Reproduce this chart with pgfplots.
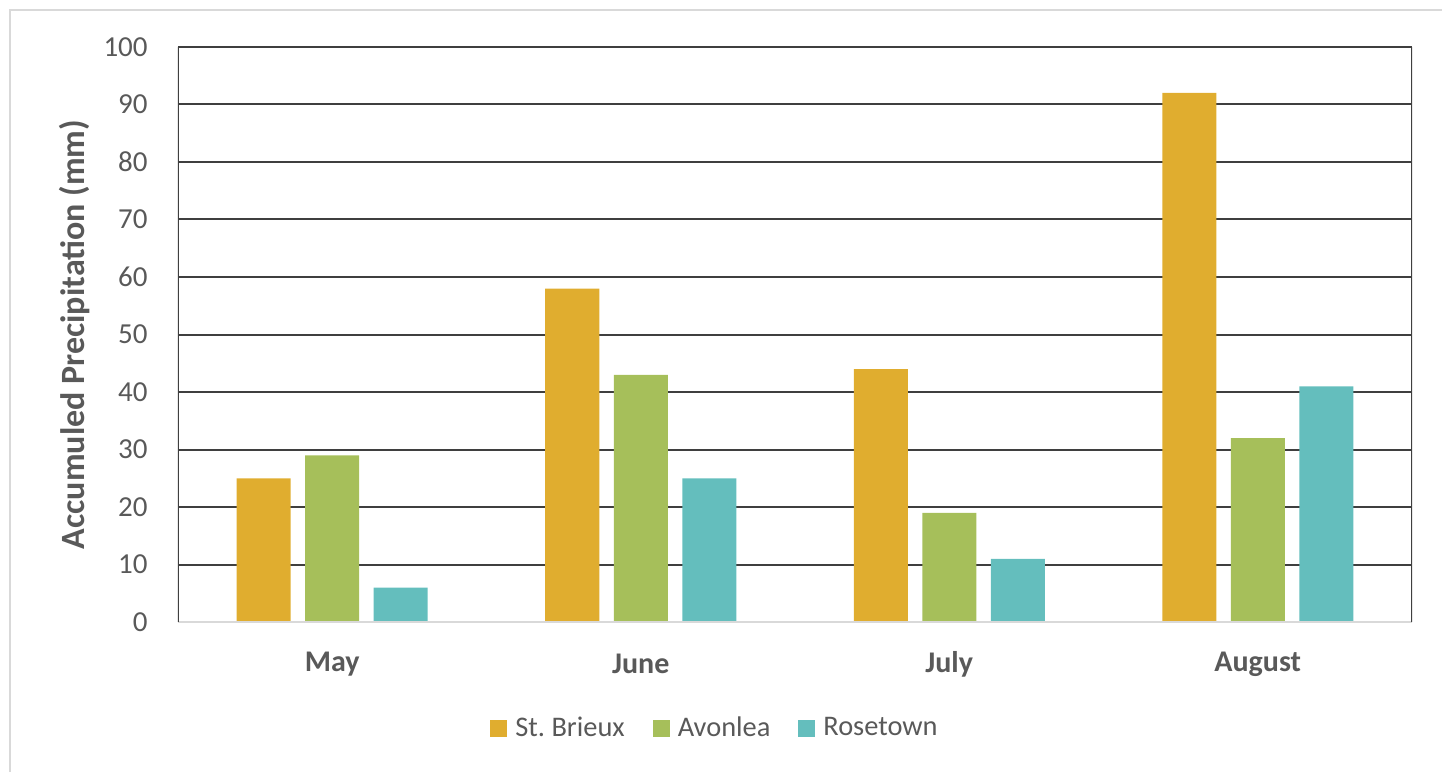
\documentclass[border=0pt]{standalone}
\usepackage{pgfplots}
\pgfplotsset{compat=1.18}
\usepackage{fontspec}
\setmainfont{Carlito}
\frenchspacing
\definecolor{cOr}{HTML}{E0AD2F}
\definecolor{cGr}{HTML}{A6BF5A}
\definecolor{cTe}{HTML}{64BEBD}
\definecolor{txt}{HTML}{595959}
\definecolor{grd}{HTML}{3F3F3F}
\definecolor{lgr}{HTML}{D9D9D9}
\begin{document}
\begin{tikzpicture}
\useasboundingbox (-89pt,-75pt) rectangle (632pt,311pt);
\draw[lgr, line width=1pt] (-84pt,-75pt) -- (-84pt,306pt) -- (632pt,306pt);
\begin{axis}[
  scale only axis, width=617pt, height=287.5pt,
  xmin=-0.5, xmax=3.5, ymin=0, ymax=100,
  ytick={0,10,...,100},
  xtick={0,1,2,3},
  xticklabels={May,June,July,August},
  major tick length=0pt,
  /pgf/number format/assume math mode=true,
  axis line style={draw=none},
  ymajorgrids, grid style={grd, line width=1pt},
  font=\fontsize{14}{17}\selectfont,
  tick label style={text=txt},
  yticklabel style={anchor=east, inner sep=0pt, xshift=-15pt, font=\fontsize{14.5}{17}\selectfont},
  xticklabel style={anchor=center, inner sep=0pt, yshift=-21pt, font=\fontsize{15}{18}\selectfont\bfseries},
  ylabel={Accumuled Precipitation (mm)},
  ylabel style={at={(axis description cs:-0.0835,0.5)}, anchor=center, rotate=0, text=txt, font=\fontsize{17}{20}\selectfont\bfseries},
  ybar, bar width=27pt,
  legend columns=3,
  legend style={draw=none, fill=none, at={(axis description cs:0.436,0)}, yshift=-53pt, anchor=center, text=txt, font=\fontsize{14.2}{17}\selectfont,
    /tikz/every even column/.append style={column sep=12pt}},
  legend image code/.code={\fill[#1] (0pt,-4.25pt) rectangle (8.5pt,4.25pt); \path (10.5pt,0pt);},
]
\addplot[fill=cOr, draw=none, bar shift=-34.25pt] coordinates {(0,25) (1,58) (2,44) (3,92)};
\addplot[fill=cGr, draw=none, bar shift=0pt] coordinates {(0,29) (1,43) (2,19) (3,32)};
\addplot[fill=cTe, draw=none, bar shift=34.25pt] coordinates {(0,6) (1,25) (2,11) (3,41)};
\legend{St. Brieux, Avonlea, Rosetown}
\draw[lgr, line width=1pt] (rel axis cs:0,0) -- (rel axis cs:1,0);
\draw[grd, line width=1pt] (rel axis cs:0,0) -- (rel axis cs:0,1);
\draw[grd, line width=1pt] (rel axis cs:1,0) -- (rel axis cs:1,1);
\end{axis}
\end{tikzpicture}
\end{document}
